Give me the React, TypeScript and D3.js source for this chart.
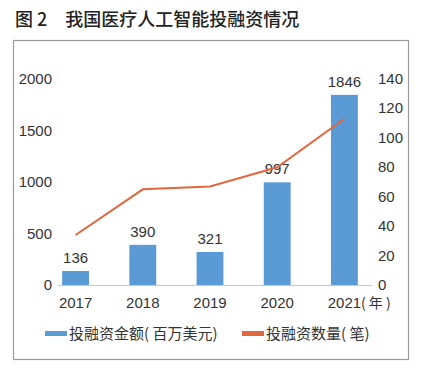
import * as d3 from "d3";

const years = ["2017", "2018", "2019", "2020", "2021"];
const amounts = [136, 390, 321, 997, 1846];
const counts = [34, 65, 67, 80, 113];
const leftTicks = [0, 500, 1000, 1500, 2000];
const rightTicks = [0, 20, 40, 60, 80, 100, 120, 140];

const title = "图 2\u2003我国医疗人工智能投融资情况";
const barName = "投融资金额( 百万美元)";
const lineName = "投融资数量( 笔)";
const yearUnit = "( 年 )";

const BLUE = "#5B9BD5";
const ORANGE = "#E2673F";
const numFont = "'Liberation Sans', Arial, sans-serif";
const cjkFont = "'Noto Sans CJK SC', sans-serif";

export default function App() {
	const width = 422;
	const height = 373;
	const plot = { left: 42, right: 378, top: 79, bottom: 285 };

	const x = d3.scaleBand<string>().domain(years).range([plot.left, plot.right]).paddingInner(0.6).paddingOuter(0.3);
	const yL = d3.scaleLinear().domain([0, 2000]).range([plot.bottom, plot.top]);
	const yR = d3.scaleLinear().domain([0, 140]).range([plot.bottom, plot.top]);
	const cx = (yr: string) => (x(yr) as number) + x.bandwidth() / 2;

	const line = d3
		.line<number>()
		.x((_, i) => cx(years[i]))
		.y((d) => yR(d));

	return (
		<div style={{ margin: -8 }}>
			<svg width={width} height={height} style={{ display: "block", background: "#fff" }}>
				<text x={15} y={26} fontFamily={cjkFont} fontSize={18} fontWeight={500} fill="#222">
					{title}
				</text>
				<rect x={13.5} y={40.5} width={395} height={319} fill="none" stroke="#9a9a9a" strokeWidth={1.2} />

				{/* left axis */}
				{leftTicks.map((t) => (
					<text key={t} x={52} y={yL(t) + 5} textAnchor="end" fontFamily={numFont} fontSize={15} fill="#333">
						{t}
					</text>
				))}
				{/* right axis */}
				{rightTicks.map((t) => (
					<text key={t} x={378} y={yR(t) + 5} fontFamily={numFont} fontSize={15} fill="#333">
						{t}
					</text>
				))}

				{/* bars */}
				{amounts.map((v, i) => (
					<g key={years[i]}>
						<rect x={x(years[i])} y={yL(v)} width={x.bandwidth()} height={plot.bottom - yL(v)} fill={BLUE} />
						<text x={cx(years[i])} y={yL(v) - 8} textAnchor="middle" fontFamily={numFont} fontSize={15} fill="#333">
							{v}
						</text>
					</g>
				))}

				<line x1={58} x2={372} y1={plot.bottom + 0.5} y2={plot.bottom + 0.5} stroke="#c8c8c8" strokeWidth={1.2} />

				<path d={line(counts) ?? ""} fill="none" stroke={ORANGE} strokeWidth={2} />

				{/* x labels */}
				{years.map((yr) => (
					<text key={yr} x={cx(yr)} y={308} textAnchor="middle" fontFamily={numFont} fontSize={15} fill="#333">
						{yr}
					</text>
				))}
				<text x={361} y={308} fontFamily={cjkFont} fontSize={14} fill="#333">
					{yearUnit}
				</text>

				{/* legend */}
				<rect x={45} y={331} width={22} height={5} fill={BLUE} />
				<text x={69} y={339} fontFamily={cjkFont} fontSize={15} fill="#333">
					{barName}
				</text>
				<rect x={242} y={331} width={22} height={5} fill={ORANGE} />
				<text x={266} y={339} fontFamily={cjkFont} fontSize={15} fill="#333">
					{lineName}
				</text>
			</svg>
		</div>
	);
}
